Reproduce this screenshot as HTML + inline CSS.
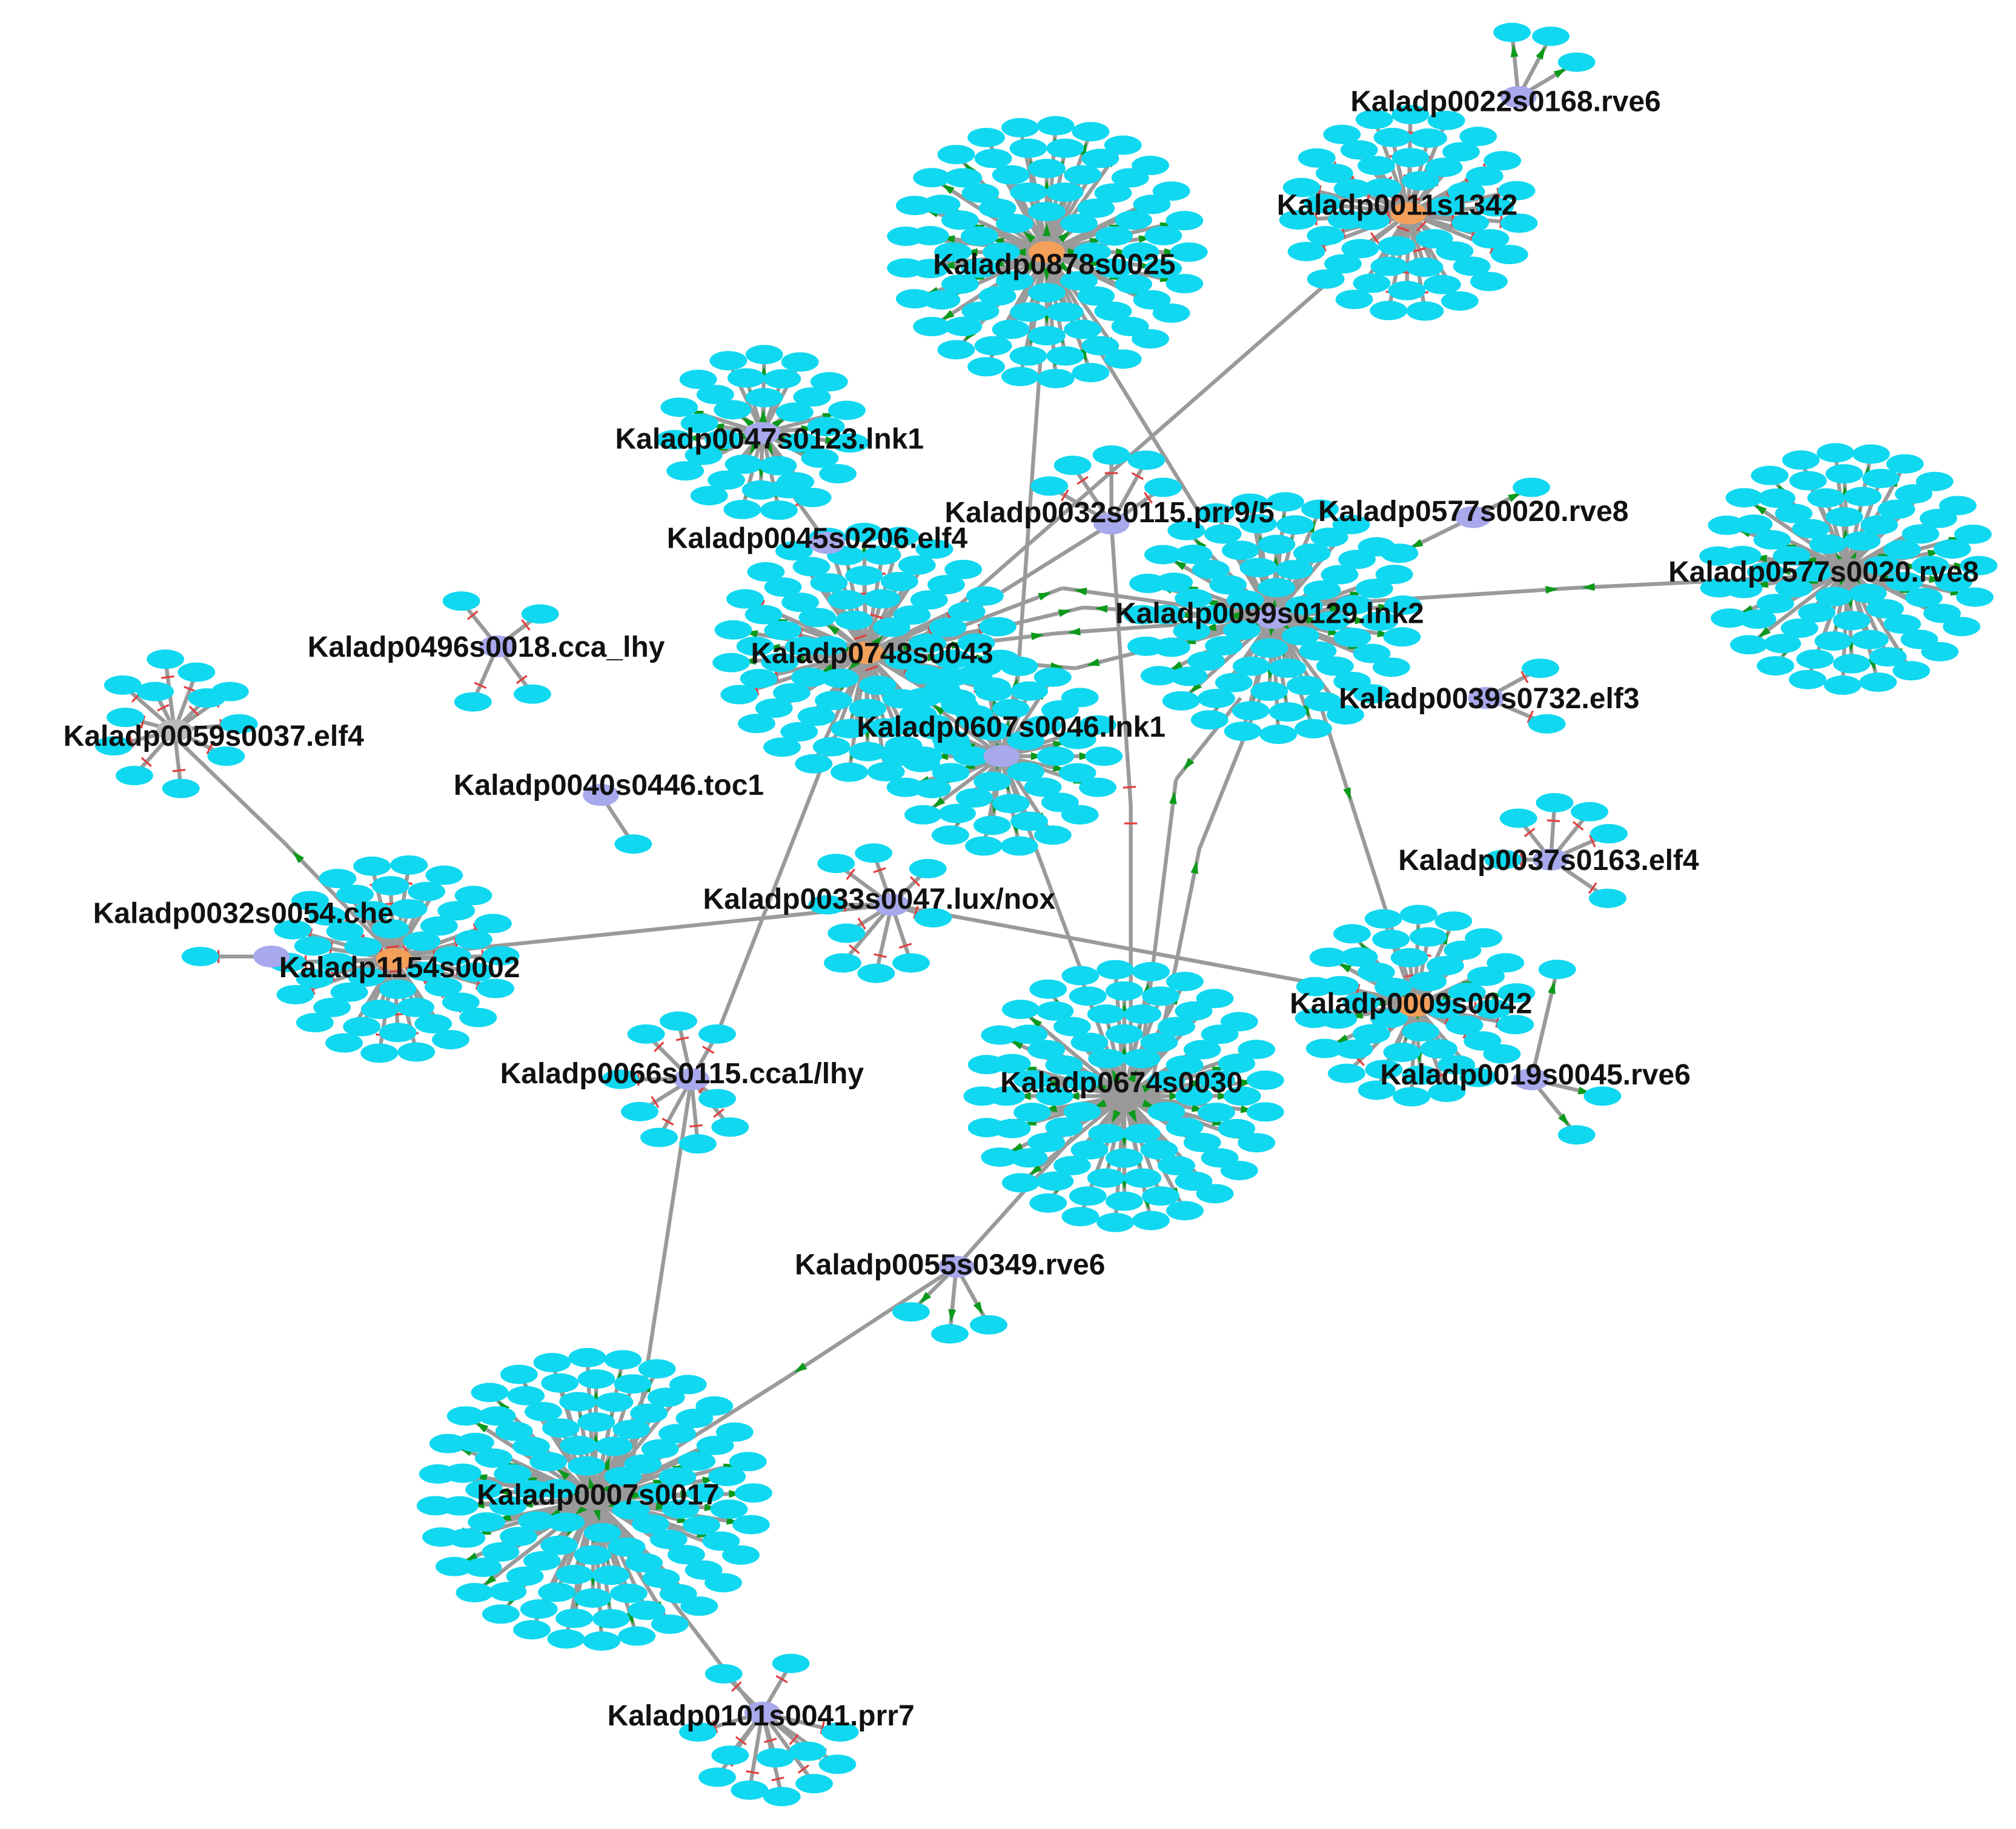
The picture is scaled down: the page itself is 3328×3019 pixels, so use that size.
<!DOCTYPE html>
<html><head><meta charset="utf-8"><style>
html,body{margin:0;padding:0;background:#fff;}
svg{display:block}
text{font-family:"Liberation Sans",Arial,sans-serif;font-weight:bold;font-size:22.5px;fill:#111;}
</style></head><body>
<svg id="s" xmlns="http://www.w3.org/2000/svg" width="3328" height="3019" viewBox="0 0 1560 1415">
<g id="edges" stroke="#9a9a9a" stroke-width="3" fill="none"></g>
<g id="marks"></g>
<g id="nodes"></g>
<g id="labels">
<text x="1045" y="86">Kaladp0022s0168.rve6</text>
<text x="988" y="166">Kaladp0011s1342</text>
<text x="722" y="212">Kaladp0878s0025</text>
<text x="476" y="347">Kaladp0047s0123.lnk1</text>
<text x="731" y="404">Kaladp0032s0115.prr9/5</text>
<text x="1020" y="403">Kaladp0577s0020.rve8</text>
<text x="516" y="424">Kaladp0045s0206.elf4</text>
<text x="1291" y="450">Kaladp0577s0020.rve8</text>
<text x="863" y="482">Kaladp0099s0129.lnk2</text>
<text x="238" y="508">Kaladp0496s0018.cca_lhy</text>
<text x="581" y="513">Kaladp0748s0043</text>
<text x="1036" y="548">Kaladp0039s0732.elf3</text>
<text x="663" y="570">Kaladp0607s0046.lnk1</text>
<text x="49" y="577">Kaladp0059s0037.elf4</text>
<text x="351" y="615">Kaladp0040s0446.toc1</text>
<text x="1082" y="673">Kaladp0037s0163.elf4</text>
<text x="544" y="703">Kaladp0033s0047.lux/nox</text>
<text x="72" y="714">Kaladp0032s0054.che</text>
<text x="216" y="756">Kaladp1154s0002</text>
<text x="998" y="784">Kaladp0009s0042</text>
<text x="387" y="838">Kaladp0066s0115.cca1/lhy</text>
<text x="1068" y="839">Kaladp0019s0045.rve6</text>
<text x="774" y="845">Kaladp0674s0030</text>
<text x="615" y="986">Kaladp0055s0349.rve6</text>
<text x="369" y="1164">Kaladp0007s0017</text>
<text x="470" y="1335">Kaladp0101s0041.prr7</text>
</g>
</svg>
<script>
var NS="http://www.w3.org/2000/svg";
var E=document.getElementById('edges'),M=document.getElementById('marks'),N=document.getElementById('nodes');
function el(p,t,a){var e=document.createElementNS(NS,t);for(var k in a)e.setAttribute(k,a[k]);p.appendChild(e);return e;}
function line(x1,y1,x2,y2){el(E,'line',{x1:x1,y1:y1,x2:x2,y2:y2});}
function node(x,y){el(N,'ellipse',{cx:x,cy:y,rx:14.5,ry:7.5,fill:'#10d8f0'});}
function hub(x,y,c){el(N,'ellipse',{cx:x,cy:y,rx:14,ry:8.5,fill:c});}
function mark(x1,y1,x2,y2,type){
 var dx=x2-x1,dy=y2-y1,L=Math.sqrt(dx*dx+dy*dy);if(L<1)return;var ux=dx/L,uy=dy/L;
 var px=x2-ux*14,py=y2-uy*14;
 if(type=='g'){el(M,'polygon',{points:(px+ux*5)+','+(py+uy*5)+' '+(px-ux*5-uy*3)+','+(py-uy*5+ux*3)+' '+(px-ux*5+uy*3)+','+(py-uy*5-ux*3),fill:'#0a9a1a'});}
 else{el(M,'line',{x1:px-uy*5,y1:py+ux*5,x2:px+uy*5,y2:py-ux*5,stroke:'#e04040','stroke-width':1.5});}
}
function edge(x1,y1,x2,y2,t){line(x1,y1,x2,y2);if(t)mark(x1,y1,x2,y2,t);}
function cluster(cx,cy,R,type,hc,seed){
 var pts=[];var r=R;var ring=0;
 while(r>20){var n=Math.floor(2*Math.PI*r/25);for(var i=0;i<n;i++){var a=2*Math.PI*(i+ring*0.5+seed*0.3)/n;pts.push([cx+r*Math.cos(a)*1.1,cy+r*Math.sin(a)*0.98]);}r-=17;ring++;}
 pts.forEach(function(p,i){var t=type=='m'?(i%3==0?'r':'g'):type;edge(cx,cy,p[0],p[1],t);});
 pts.forEach(function(p){node(p[0],p[1]);});
 hub(cx,cy,hc);
}
function star(cx,cy,list,type,hc){
 list.forEach(function(p){edge(cx,cy,p[0],p[1],type);});
 list.forEach(function(p){node(p[0],p[1]);});
 hub(cx,cy,hc);
}
var OR='#f5a05a',PU='#a8a8ec';
// inter-hub edges
line(805,280,785,560);line(850,270,930,400);line(1060,190,700,505);
line(700,505,860,405);
[[822,455],[838,470],[817,490],[832,517]].forEach(function(p){line(690,505,p[0],p[1]);line(p[0],p[1],985,478);mark(985,478,p[0],p[1],'g');mark(690,505,p[0],p[1],'g');});
edge(985,470,1215,455,'g');line(1215,455,1420,445);mark(1420,445,1215,455,'g');
line(1020,540,1048,628);line(1048,628,1095,775);mark(1020,540,1048,628,'g');
line(305,740,690,700);line(690,700,1095,775);
line(135,570,220,652);line(220,652,305,740);mark(305,740,220,652,'g');
line(645,570,555,800);line(535,835,485,1160);
line(460,1160,607,1067);line(607,1067,740,980);line(740,980,830,880);mark(740,980,607,1067,'g');
line(460,1160,590,1330);
line(775,585,840,760);
line(860,405,875,623);line(875,623,875,845);mark(860,405,875,623,'r');mark(875,845,875,623,'r');
line(960,540,910,603);line(910,603,880,845);mark(960,540,910,603,'g');mark(880,845,910,603,'g');
line(975,540,928,657);line(928,657,890,845);mark(890,845,928,657,'g');
line(210,740,155,740);mark(210,740,155,740,'r');
// clusters
cluster(810,195,100,'g',OR,0);
cluster(1090,165,78,'r',OR,1);
star(1175,75,[[1170,25],[1200,28],[1220,48]],'g',PU);
cluster(985,478,92,'g',PU,2);
cluster(1430,440,92,'g','#999',3);
cluster(670,505,95,'m',OR,4);
cluster(590,335,62,'g',PU,1);
star(640,420,[[610,378]],'r',PU);
star(860,405,[[812,376],[830,360],[860,352],[887,356],[900,377]],'r',PU);
star(1140,400,[[1185,377],[1083,428]],'g',PU);
cluster(775,585,72,'g',PU,0);
cluster(870,848,100,'g','#999',5);
cluster(1095,778,72,'m',OR,2);
cluster(460,1160,112,'g','#999',6);
cluster(305,742,75,'r',OR,3);
star(135,565,[[95,530],[128,510],[152,520],[178,535],[185,560],[175,585],[140,610],[104,600],[88,577],[97,555],[120,535],[160,540]],'r','#bbb');
star(535,835,[[500,800],[525,790],[555,800],[480,835],[495,860],[510,880],[540,885],[565,872],[555,850]],'r',PU);
star(690,700,[[647,668],[676,660],[718,672],[640,700],[655,722],[652,745],[678,753],[705,745],[722,710]],'r',PU);
star(590,1325,[[612,1287],[560,1295],[540,1340],[650,1340],[555,1375],[580,1385],[605,1390],[630,1380],[648,1365],[565,1358],[600,1360],[625,1355]],'r',PU);
star(740,980,[[705,1015],[735,1032],[765,1025]],'g',PU);
star(385,500,[[357,465],[418,475],[366,543],[412,537]],'r',PU);
star(465,615,[[490,653]],'',PU);
star(1200,665,[[1175,633],[1203,621],[1230,628],[1245,645],[1244,695],[1163,665]],'r',PU);
star(1150,540,[[1192,517],[1197,560]],'r',PU);
star(1185,835,[[1240,848],[1220,878],[1205,750]],'g',PU);
node(155,740);hub(210,740,PU);
</script>
</body></html>
